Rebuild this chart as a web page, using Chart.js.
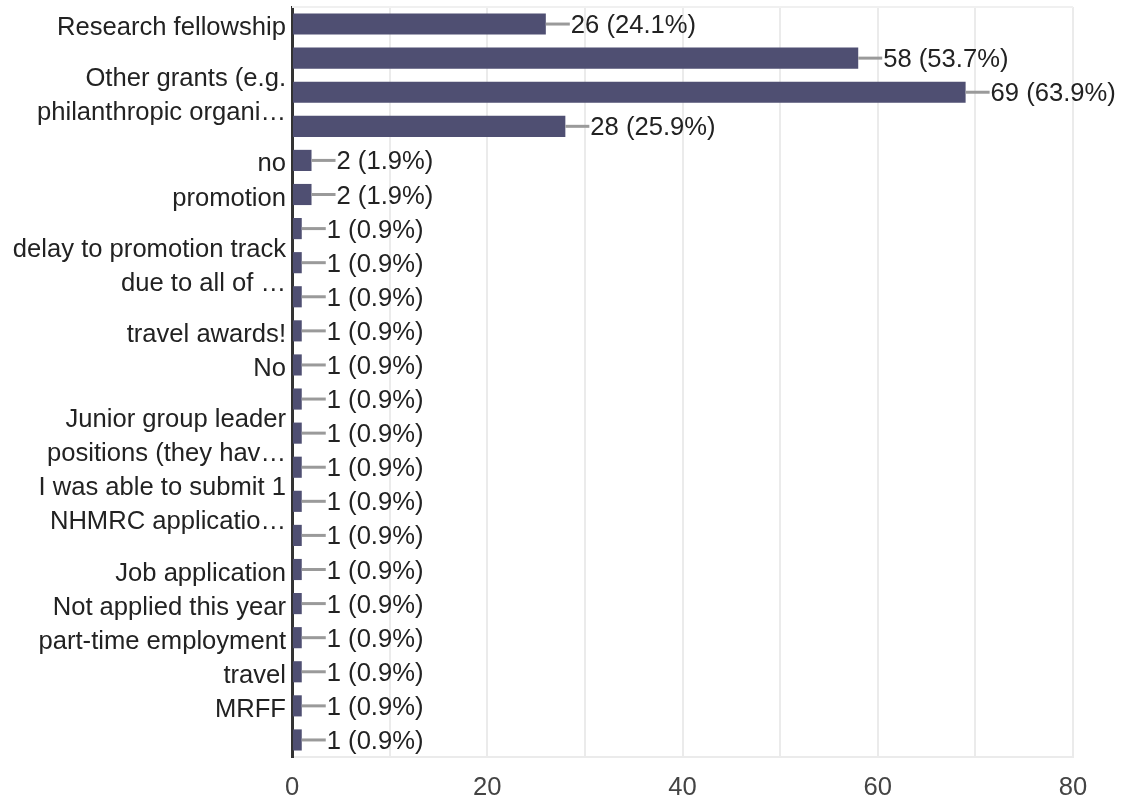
<!DOCTYPE html>
<html>
<head>
<meta charset="utf-8">
<script src="https://cdn.jsdelivr.net/npm/chart.js@4.4.1/dist/chart.umd.min.js"></script>
<style>
  body { margin: 0; background: #fff; }
  #wrap { width: 1122px; height: 796px; }
</style>
</head>
<body>
<div id="wrap"><canvas id="graphCanvas" width="1122" height="796"></canvas></div>
<script>
// categories (labels that the chart skipped are left empty)
const answers = [
    'Research fellowship',
    '',
    ['Other grants (e.g.', 'philanthropic organi\u2026'],
    '',
    'no',
    'promotion',
    '',
    ['delay to promotion track', 'due to all of \u2026'],
    '',
    'travel awards!',
    'No',
    '',
    ['Junior group leader', 'positions (they hav\u2026'],
    '',
    ['I was able to submit 1', 'NHMRC applicatio\u2026'],
    '',
    'Job application',
    'Not applied this year',
    'part-time employment',
    'travel',
    'MRFF',
    ''
]
const counts = [26, 58, 69, 28, 2, 2, 1, 1, 1, 1, 1, 1, 1, 1, 1, 1, 1, 1, 1, 1, 1, 1]
const percents = ['24.1', '53.7', '63.9', '25.9', '1.9', '1.9',
    '0.9', '0.9', '0.9', '0.9', '0.9', '0.9', '0.9', '0.9',
    '0.9', '0.9', '0.9', '0.9', '0.9', '0.9', '0.9', '0.9']
const xTicks = [0, 20, 40, 60, 80]

const fontFamily = "'Liberation Sans', Arial, sans-serif"
const fontSize = 25.6

// leader line + "n (p%)" after each bar
const valueLabels = {
    id: 'valueLabels',
    afterDatasetsDraw(chart) {
        let ctx = chart.ctx
        let meta = chart.getDatasetMeta(0)
        ctx.save()
        ctx.font = fontSize + 'px ' + fontFamily
        ctx.textAlign = 'left'
        ctx.textBaseline = 'middle'
        meta.data.forEach(function (bar, i) {
            ctx.strokeStyle = '#9a9a9a'
            ctx.lineWidth = 3
            ctx.beginPath()
            ctx.moveTo(bar.x, bar.y)
            ctx.lineTo(bar.x + 24, bar.y)
            ctx.stroke()
            ctx.fillStyle = '#222'
            ctx.fillText(counts[i] + ' (' + percents[i] + '%)', bar.x + 25, bar.y + 2)
        })
        ctx.restore()
    }
}

// faint line along the top of the plot
const topLine = {
    id: 'topLine',
    beforeDatasetsDraw(chart) {
        let a = chart.chartArea
        let ctx = chart.ctx
        ctx.save()
        ctx.strokeStyle = '#f0f0f0'
        ctx.lineWidth = 2
        ctx.beginPath()
        ctx.moveTo(a.left, a.top)
        ctx.lineTo(a.right, a.top)
        ctx.stroke()
        ctx.restore()
    }
}

new Chart(document.getElementById('graphCanvas'), {
    type: 'bar',
    data: {
        labels: answers,
        datasets: [{
            data: counts,
            backgroundColor: '#4f4f72',
            barPercentage: 0.62,
            categoryPercentage: 1
        }]
    },
    options: {
        indexAxis: 'y',
        responsive: false,
        animation: false,
        layout: { padding: { top: 7, right: 49, bottom: 0, left: 0 } },
        plugins: {
            legend: { display: false },
            tooltip: { enabled: false }
        },
        scales: {
            x: {
                min: 0,
                max: 80,
                ticks: {
                    stepSize: 10,
                    autoSkip: false,
                    maxRotation: 0,
                    padding: 16,
                    color: '#444',
                    font: { family: fontFamily, size: fontSize },
                    callback: function (v) { return xTicks.includes(v) ? v : '' }
                },
                grid: { color: '#ebebeb', lineWidth: 2, drawTicks: false },
                border: { color: '#ebebeb', width: 2 },
                afterFit: function (scale) {
                    scale.height = 39
                    scale.paddingLeft = 0
                    scale.paddingRight = 0
                }
            },
            y: {
                ticks: {
                    autoSkip: false,
                    padding: 6,
                    labelOffset: 4,
                    color: '#222',
                    font: { family: fontFamily, size: fontSize, lineHeight: 1.33 }
                },
                grid: { drawOnChartArea: false, drawTicks: false },
                border: { color: '#333', width: 3 },
                afterFit: function (scale) {
                    scale.width = 292
                    scale.paddingTop = 0
                    scale.paddingBottom = 0
                }
            }
        }
    },
    plugins: [topLine, valueLabels]
})
</script>
</body>
</html>
